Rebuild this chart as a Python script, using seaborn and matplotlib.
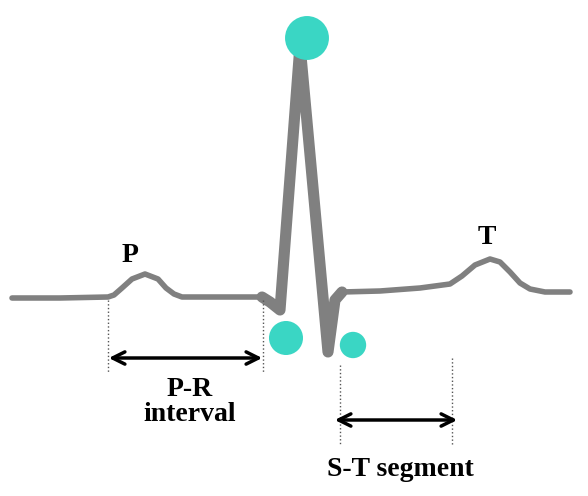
import matplotlib
matplotlib.use('Agg')
import seaborn as sns
import pandas as pd
import matplotlib.pyplot as plt

# ECG trace (pixel coords, y grows downward)
ecg_x = [12, 60, 108, 114, 122, 132, 145, 158, 166, 174, 182, 220, 262, 270, 280, 300, 328, 335, 342, 380, 420, 450, 462, 475, 490, 500, 510, 520, 530, 545, 570]
ecg_y = [298, 298, 297, 295, 288, 279, 274, 279, 288, 294, 297, 297, 297, 302, 310, 45, 352, 300, 292, 291, 288, 284, 276, 265, 259, 262, 272, 283, 289, 292, 292]

dot_x = [307, 286, 353]
dot_y = [38, 338, 345]
dot_size = [1000, 600, 360]

sns.set_style("white")
plt.rcParams['font.family'] = ['Liberation Serif', 'DejaVu Serif']

fig, ax = plt.subplots(figsize=(5.88, 4.96), dpi=100)
fig.subplots_adjust(0, 0, 1, 1)

df = pd.DataFrame({'x': ecg_x, 'y': ecg_y})
sns.lineplot(data=df, x='x', y='y', sort=False, color='#808080', linewidth=4, ax=ax)
qrs = df.iloc[12:19]
sns.lineplot(data=qrs, x='x', y='y', sort=False, color='#808080', linewidth=8, ax=ax)

sns.scatterplot(x=dot_x, y=dot_y, s=dot_size, color='#3ad6c4', edgecolor='none', ax=ax, zorder=5)

# interval markers
for xv, y0, y1 in [(108, 300, 372), (263, 300, 372), (340, 365, 445), (452, 358, 445)]:
    ax.plot([xv, xv], [y0, y1], color='#555555', linestyle=':', linewidth=1)
arrow = dict(arrowstyle='<->', color='black', lw=2.5, mutation_scale=22)
ax.annotate('', xy=(106, 358), xytext=(265, 358), arrowprops=arrow)
ax.annotate('', xy=(332, 420), xytext=(460, 420), arrowprops=arrow)

kw = dict(fontsize=20, fontweight='bold', color='black', ha='center', va='center')
ax.text(130, 256, 'P', **kw)
ax.text(487, 237, 'T', **kw)
ax.text(190, 402, 'P-R\ninterval', linespacing=0.95, **kw)
ax.text(400, 470, 'S-T segment', **kw)

ax.set_xlim(0, 588)
ax.set_ylim(496, 0)
ax.axis('off')
fig.savefig('out.png', dpi=100)
